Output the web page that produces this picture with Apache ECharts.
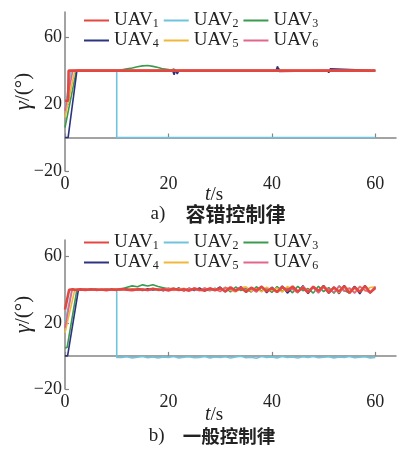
<!DOCTYPE html>
<html>
<head>
<meta charset="utf-8">
<script src="https://cdn.jsdelivr.net/npm/echarts@6/dist/echarts.min.js"></script>
<style>
  html, body { margin: 0; padding: 0; background: #fff; }
  #chart { width: 405px; height: 450px; }
</style>
</head>
<body>
<div id="chart"></div>
<script>
// ---- data ----
var uavNames = ['UAV1', 'UAV2', 'UAV3', 'UAV4', 'UAV5', 'UAV6'];
var uavColors = ['#e4473f', '#6fc3dc', '#3a9a4e', '#2c3480', '#f0b83a', '#e0668c'];
var xTicks = [0, 20, 40, 60];
var yTicks = [-20, 20, 60];

// a) fault tolerant control law: [t, gamma]
var topUAV1 = [[0, 22], [0.6, 22], [0.7, 40], [60, 40]];
var topUAV2 = [[0, 18], [1.2, 40], [10, 40], [10, 0], [60, 0]];
var topUAV3 = [[0, 6], [0.3, 6], [2.2, 40], [10.5, 40], [11, 40.5], [12, 41], [13, 41.5], [14, 42.3],
  [15, 42.8], [16, 43], [17, 42.5], [18, 41.8], [19, 41], [20, 40.6], [20.5, 40], [21, 41], [21.5, 39.5],
  [22, 40], [41, 40], [41.3, 41.5], [41.6, 40], [51, 40], [51.3, 40.8], [51.6, 40], [60, 40]];
var topUAV4 = [[0, 0], [0.6, 0], [2.3, 40], [20.8, 40], [21.1, 37.5], [21.4, 40.5], [21.7, 38], [22, 40],
  [40.8, 40], [41.1, 42.5], [41.4, 39.5], [41.7, 40], [50.7, 40], [51, 38.8], [51.3, 41], [51.6, 40], [60, 40]];
var topUAV5 = [[0, 12], [1.9, 40], [60, 40]];
var topUAV6 = [[0, 16], [1.5, 40], [60, 40]];

// b) general control law
var tB = [3, 4, 5, 6, 7, 8, 9, 10, 11, 12, 13, 14, 15, 16, 17, 18, 19, 20, 21, 22, 23, 24, 25, 26, 27, 28, 29, 30,
  31, 32, 33, 34, 35, 36, 37, 38, 39, 40, 41, 42, 43, 44, 45, 46, 47, 48, 49, 50, 51, 52, 53, 54, 55, 56, 57, 58, 59, 60];
var botStart1 = [[0, 28], [0.8, 40], [1.5, 40.3], [2, 39.8]];
var botUAV1 = [40.2, 39.8, 40.3, 39.9, 40.1, 39.7, 40.2, 39.9, 40.4, 40.0, 39.6, 40.3, 40.1, 39.8, 40.5, 39.9, 40.2, 39.5,
  40.6, 39.8, 40.3, 39.4, 40.7, 40.0, 39.5, 40.8, 39.7,
  40.9, 39.0, 41.4, 39.5, 41.0, 38.8, 41.2, 39.6, 41.7, 39.0, 40.9, 38.6, 41.5, 39.3, 41.9, 38.9, 41.2, 38.3, 41.8, 39.4,
  42.0, 38.2, 41.3, 38.9, 42.1, 38.0, 41.4, 38.7, 42.2, 38.3, 41.0];
var botStart2 = [[0, 20], [1.3, 40], [3, 40.2], [5, 39.8], [7, 40.1], [9, 39.9], [10, 40], [10, -1]];
var botUAV2 = [-0.9, -0.5, -1.2, -0.8, -0.3, -1.1, -0.7, -1.3, -0.6, -1.0, -0.4, -1.2, -0.8, -0.5, -1.1, -0.9, -0.3,
  -1.2, -0.7, -1.0, -0.5, -1.3, -0.6, -0.2, -1.1, -0.8, -1.4, -0.4, -0.9, -0.6, -1.2, -0.3, -1.0, -0.7, -1.3, -0.5,
  -0.9, -0.4, -1.1, -0.8, -0.5, -1.2, -0.7, -1.0, -0.4, -1.1, -0.8, -0.5, -1.2, -0.9];
var botStart3 = [[0, 5], [0.4, 5], [2.3, 40]];
var botUAV3 = [40.1, 39.8, 40.2, 40.0, 39.9, 40.3, 40.0, 40.2, 40.6, 41.5, 42.3, 41.8, 42.9, 42.2, 43.0, 41.9, 41.2, 40.5,
  40.9, 39.7, 40.4, 39.5, 40.8, 39.9, 40.3, 39.4, 40.9,
  39.4, 41.3, 38.7, 41.6, 39.5, 40.8, 38.6, 41.8, 39.2, 41.0, 38.3, 41.9, 39.0, 41.2, 38.1, 42.0, 39.4, 40.7, 37.9, 42.1,
  38.8, 41.3, 37.8, 42.3, 39.5, 37.9, 41.9, 38.4, 42.4, 38.1, 41.2];
var botStart4 = [[0, 0], [0.5, 0], [2.6, 40]];
var botUAV4 = [39.7, 40.2, 39.9, 40.3, 39.8, 40.1, 39.6, 40.2, 39.9, 40.4, 39.7, 40.1, 39.5, 40.6, 39.8, 40.3, 39.4, 40.7,
  39.6, 41.0, 39.3, 40.8, 39.5, 41.1, 39.2, 40.6, 39.8,
  41.6, 38.7, 41.3, 38.9, 41.9, 38.4, 41.1, 39.0, 42.0, 38.2, 41.5, 38.8, 42.2, 37.9, 41.3, 38.5, 42.4, 37.7, 41.8, 38.4,
  42.5, 37.8, 41.6, 37.6, 42.6, 38.3, 42.0, 37.5, 42.4, 38.0, 41.7];
var botStart5 = [[0, 14], [1.9, 40]];
var botUAV5 = [40.3, 39.9, 40.1, 39.7, 40.2, 40.0, 39.8, 40.4, 39.9, 40.1, 40.5, 39.8, 40.2, 39.6, 40.7, 40.0, 39.7, 40.8,
  39.5, 40.4, 40.9, 39.6, 40.2, 39.3, 41.0, 39.8, 40.5,
  39.2, 41.5, 39.6, 38.6, 41.1, 41.7, 39.1, 40.6, 38.7, 41.5, 39.5, 41.0, 38.5, 41.9, 40.2, 38.3, 41.8, 39.3, 41.3, 38.2,
  42.0, 39.6, 40.9, 38.1, 41.9, 40.1, 38.6, 42.1, 39.2, 41.3, 41.8];
var botStart6 = [[0, 17], [1.4, 40]];
var botUAV6 = [40.0, 40.3, 39.8, 40.1, 39.9, 40.4, 39.7, 40.0, 40.3, 39.8, 40.6, 39.9, 40.2, 39.5, 40.4, 40.1, 39.6, 40.9,
  39.8, 40.3, 39.2, 40.8, 40.1, 39.5, 41.0, 39.6, 40.4,
  38.8, 41.3, 40.3, 39.0, 41.6, 39.4, 40.6, 38.5, 41.7, 39.6, 40.9, 38.3, 41.8, 39.8, 40.3, 38.1, 41.9, 39.3, 41.2, 38.0,
  41.5, 40.3, 38.4, 42.1, 39.0, 41.1, 37.9, 41.8, 39.7, 38.2, 41.9];

function joinSeries(start, times, vals) {
  return start.concat(vals.map(function (v, i) { return [times[i], v]; }));
}

var topData = [topUAV1, topUAV2, topUAV3, topUAV4, topUAV5, topUAV6];
var botData = [
  joinSeries(botStart1, tB, botUAV1),
  joinSeries(botStart2, tB.slice(8), botUAV2),
  joinSeries(botStart3, tB, botUAV3),
  joinSeries(botStart4, tB, botUAV4),
  joinSeries(botStart5, tB, botUAV5),
  joinSeries(botStart6, tB, botUAV6)
];

// ---- chart ----
var serif = '"Liberation Serif", "DejaVu Serif", serif';
var cjk = '"Noto Sans CJK SC", sans-serif';
var axisGray = '#858585';

function makeX(gridIndex) {
  return {
    type: 'value', gridIndex: gridIndex, min: 0, max: 64,
    axisLine: { lineStyle: { color: axisGray, width: 1.5 } },
    axisTick: { inside: true, length: 4, customValues: xTicks, lineStyle: { color: axisGray, width: 1.2 } },
    axisLabel: { customValues: xTicks, margin: 4, fontFamily: serif, fontSize: 18, color: '#222' },
    splitLine: { show: false }
  };
}
function makeY(gridIndex, max) {
  return {
    type: 'value', gridIndex: gridIndex, min: -20, max: max,
    name: '{i|γ}{n|/(°)}', nameLocation: 'middle', nameRotate: 90, nameGap: 30,
    nameMoveOverlap: false,
    nameTextStyle: {
      rich: {
        i: { fontFamily: serif, fontStyle: 'italic', fontSize: 23, color: '#222' },
        n: { fontFamily: serif, fontSize: 21, color: '#222' }
      }
    },
    axisLine: { lineStyle: { color: axisGray, width: 1.5 } },
    axisTick: { inside: true, length: 4, customValues: yTicks, lineStyle: { color: axisGray, width: 1.2 } },
    axisLabel: {
      customValues: yTicks, margin: 3, fontFamily: serif, fontSize: 18, color: '#222',
      formatter: function (v) { return String(v).replace('-', '\u2212'); }
    },
    splitLine: { show: false }
  };
}

var series = [];
[topData, botData].forEach(function (set, g) {
  // red (UAV1) drawn last so it sits on top like the original
  [1, 2, 3, 4, 5, 0].forEach(function (k) {
    series.push({
      name: uavNames[k], type: 'line', xAxisIndex: g, yAxisIndex: g,
      data: set[k], showSymbol: false, symbol: 'none', animation: false,
      lineStyle: { color: uavColors[k], width: k === 0 ? 2.6 : 1.6 },
      itemStyle: { color: uavColors[k] },
      z: k === 0 ? 5 : 2
    });
  });
});

function makeLegend(items, top) {
  return {
    data: items, left: 84, top: top, padding: 0, itemGap: 5, orient: 'horizontal',
    icon: 'rect', itemWidth: 25, itemHeight: 2, selectedMode: false,
    formatter: function (n) { return '{m|UAV}{s|' + n.slice(3) + '}'; },
    textStyle: {
      width: 52,
      rich: {
        m: { fontFamily: serif, fontSize: 19, lineHeight: 19, color: '#222', verticalAlign: 'middle' },
        s: { fontFamily: serif, fontSize: 12, lineHeight: 12, color: '#222', padding: [20, 0, 0, 0], verticalAlign: 'bottom' }
      }
    }
  };
}

function textEl(x, y, text, rich) {
  return { type: 'text', x: x, y: y, style: { text: text, rich: rich, align: 'center', verticalAlign: 'middle' } };
}
var tsRich = {
  i: { fontFamily: serif, fontStyle: 'italic', fontSize: 20, fill: '#222' },
  n: { fontFamily: serif, fontSize: 19, fill: '#222' }
};

var option = {
  backgroundColor: '#fff',
  animation: false,
  grid: [
    { left: 65, top: 12, width: 331, height: 159, outerBoundsMode: 'none', containLabel: false },
    { left: 65, top: 240, width: 331, height: 149, outerBoundsMode: 'none', containLabel: false }
  ],
  xAxis: [makeX(0), makeX(1)],
  yAxis: [makeY(0, 75), makeY(1, 70)],
  legend: [
    makeLegend(['UAV1', 'UAV2', 'UAV3'], -2),
    makeLegend(['UAV4', 'UAV5', 'UAV6'], 18),
    makeLegend(['UAV1', 'UAV2', 'UAV3'], 220),
    makeLegend(['UAV4', 'UAV5', 'UAV6'], 240)
  ],
  graphic: [
    textEl(214, 195, '{i|t}{n|/s}', tsRich),
    textEl(218, 214, '{a|a)}{c|容错控制律}', {
      a: { fontFamily: serif, fontSize: 19, fill: '#222', padding: [0, 20, 0, 0] },
      c: { fontFamily: cjk, fontSize: 20, fontWeight: 'bold', fill: '#222' }
    }),
    textEl(214, 415, '{i|t}{n|/s}', tsRich),
    textEl(212, 436, '{a|b)}{c|一般控制律}', {
      a: { fontFamily: serif, fontSize: 19, fill: '#222', padding: [0, 18, 0, 0] },
      c: { fontFamily: cjk, fontSize: 18.5, fontWeight: 'bold', fill: '#222' }
    })
  ],
  series: series
};

var myChart = echarts.init(document.getElementById('chart'));
myChart.setOption(option);
</script>
</body>
</html>
